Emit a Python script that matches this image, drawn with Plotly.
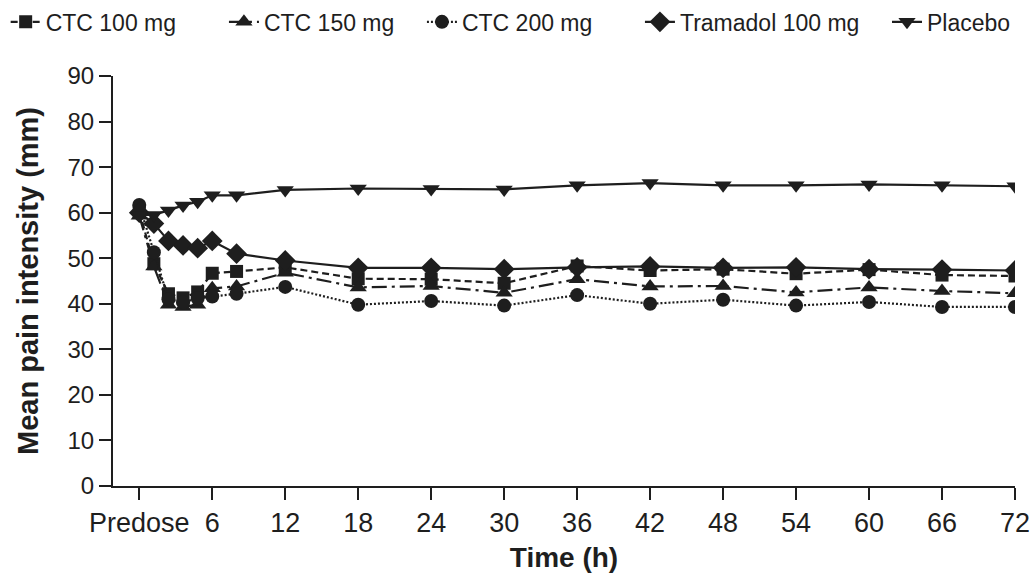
import plotly.graph_objects as go

times = [0, 1.2, 2.4, 3.6, 4.8, 6, 8, 12, 18, 24, 30, 36, 42, 48, 54, 60, 66, 72]
tick_vals = [0, 6, 12, 18, 24, 30, 36, 42, 48, 54, 60, 66, 72]
tick_text = ["Predose", "6", "12", "18", "24", "30", "36", "42", "48", "54", "60", "66", "72"]

ctc100 = [60.3, 48.8, 42.2, 41.3, 42.6, 46.7, 47.1, 48.0, 45.5, 45.4, 44.5, 48.3, 47.3, 47.6, 46.6, 47.5, 46.3, 46.1]
ctc150 = [59.3, 48.2, 39.8, 39.3, 39.8, 43.4, 43.8, 46.8, 43.6, 43.9, 42.4, 45.4, 43.8, 43.9, 42.5, 43.6, 42.8, 42.3]
ctc200 = [61.7, 51.3, 41.0, 40.3, 41.2, 41.6, 42.2, 43.7, 39.8, 40.6, 39.6, 41.9, 40.0, 40.9, 39.6, 40.4, 39.3, 39.3]
tramadol = [60.0, 57.6, 53.8, 52.8, 52.2, 53.8, 51.0, 49.5, 47.9, 47.9, 47.6, 48.0, 48.2, 47.9, 48.0, 47.6, 47.5, 47.3]
placebo = [59.5, 59.5, 60.5, 61.6, 62.4, 63.8, 63.8, 65.0, 65.3, 65.2, 65.1, 66.0, 66.5, 66.0, 66.0, 66.2, 66.0, 65.8]

series_names = ["CTC 100 mg", "CTC 150 mg", "CTC 200 mg", "Tramadol 100 mg", "Placebo"]
series_values = [ctc100, ctc150, ctc200, tramadol, placebo]
symbols = ["square", "triangle-up", "circle", "diamond", "triangle-down"]
dashes = ["7px,4px", "15px,5px,3px,5px", "2px,2px", "solid", "solid"]
sizes = [13, 15, 14, 16, 15]
# left edge of each legend entry (paper fraction)
legend_x = [-0.1190, 0.1230, 0.3425, 0.5842, 0.8581]

INK = "#1e1e1e"
fig = go.Figure()
legends = {}
for i, (name, vals) in enumerate(zip(series_names, series_values)):
    key = "legend" if i == 0 else f"legend{i + 1}"
    fig.add_trace(go.Scatter(
        x=times, y=vals, name=name, mode="lines+markers",
        line=dict(color=INK, width=2.2, dash=dashes[i]),
        marker=dict(symbol=symbols[i], size=sizes[i], color=INK),
        legend=key,
    ))
    legends[key] = dict(orientation="h", x=legend_x[i], y=1.132, xanchor="left",
                        yanchor="middle", font=dict(size=23), itemwidth=30,
                        bgcolor="rgba(0,0,0,0)")

fig.update_layout(
    width=1032, height=577,
    margin=dict(l=113, r=17, t=76, b=91, autoexpand=False),
    paper_bgcolor="white", plot_bgcolor="white",
    font=dict(family="Liberation Sans, Arial, sans-serif", color=INK, size=22),
    showlegend=True,
    **legends,
)
fig.update_xaxes(
    range=[-2.16, 72], tickvals=tick_vals, ticktext=tick_text,
    showline=True, linewidth=2, linecolor=INK, ticks="outside", ticklen=12,
    tickwidth=2, tickcolor=INK, showgrid=False, zeroline=False,
    tickfont=dict(size=27),
    title=dict(text="<b>Time (h)</b>", standoff=10, font=dict(size=28)),
)
fig.update_yaxes(
    range=[0, 90], tickvals=list(range(0, 91, 10)),
    showline=True, linewidth=2, linecolor=INK, ticks="outside", ticklen=12,
    tickwidth=2, tickcolor=INK, showgrid=False, zeroline=False,
    tickfont=dict(size=24),
    title=dict(text="<b>Mean pain intensity (mm)</b>", standoff=20, font=dict(size=29)),
)

fig.write_html("out.html")
